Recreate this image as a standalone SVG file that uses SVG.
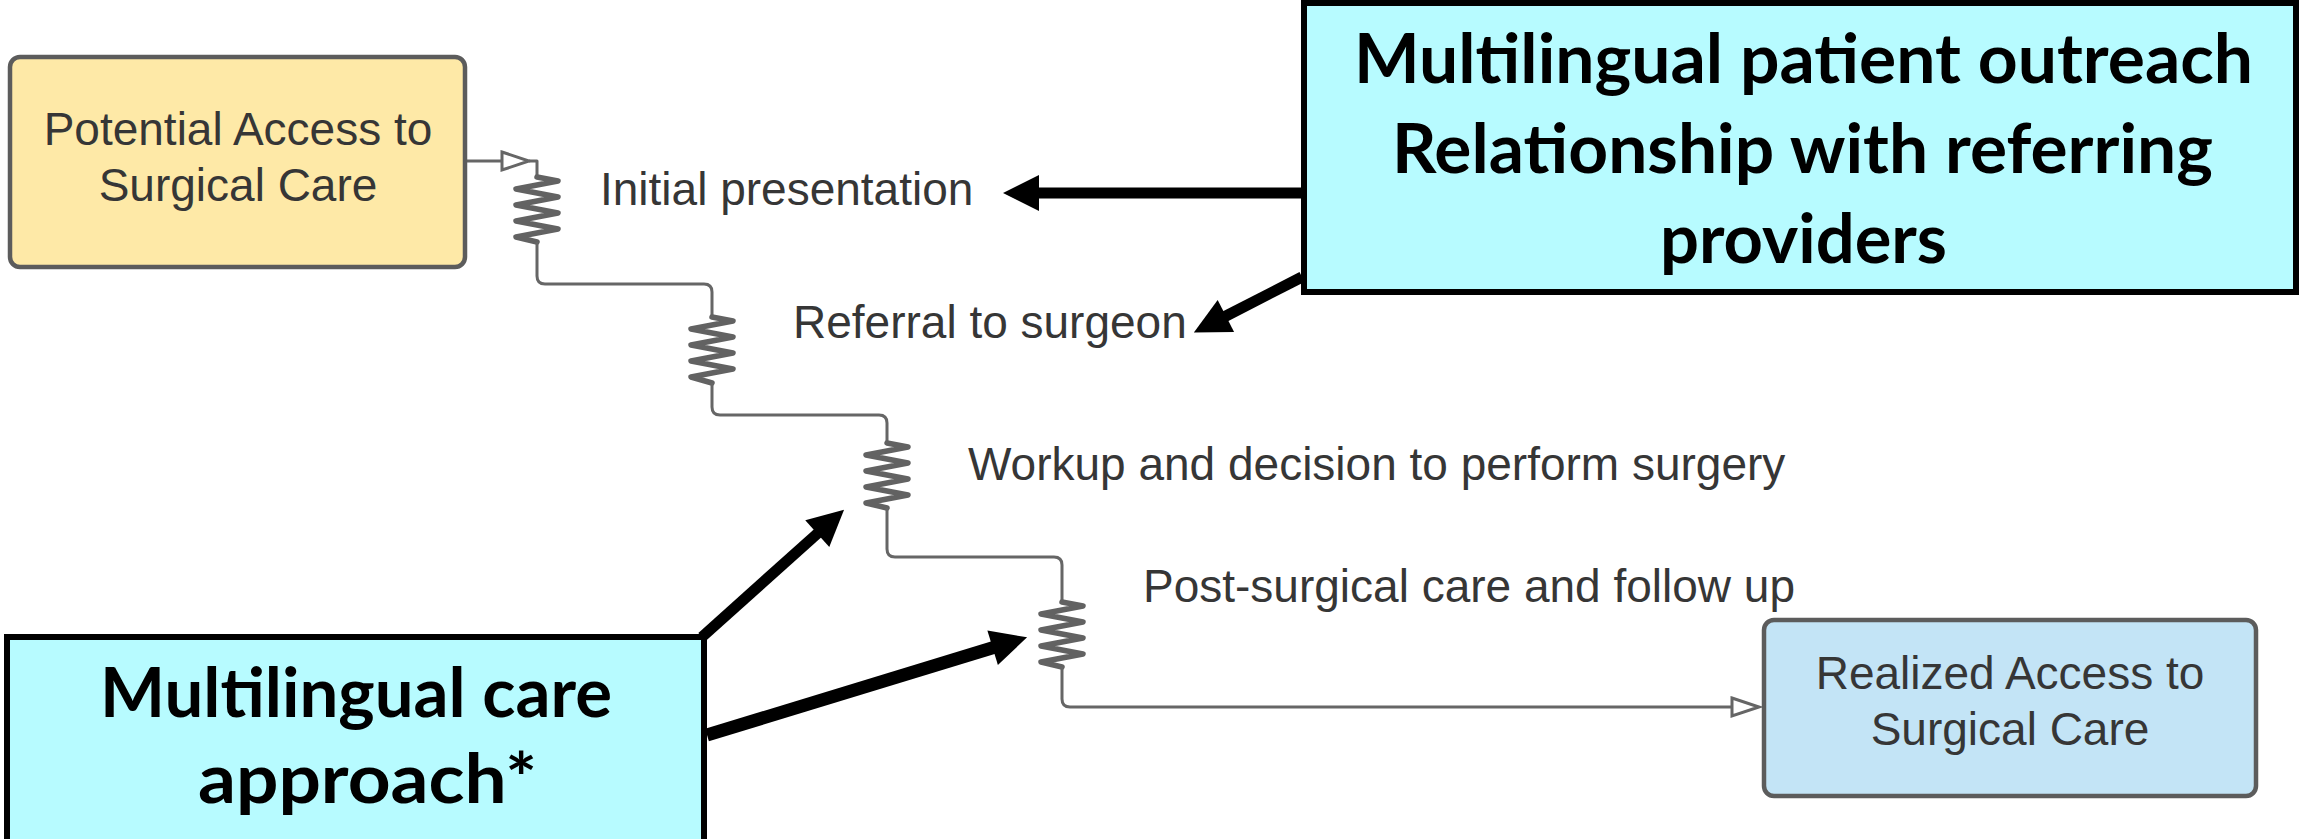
<svg xmlns="http://www.w3.org/2000/svg" width="2300" height="839" viewBox="0 0 2300 839">
<style>
.bg{fill:#ffffff}
.conn{fill:none;stroke:#666666;stroke-width:3;stroke-linejoin:round}
.spring{fill:none;stroke:#626262;stroke-width:5.5;stroke-linejoin:round;stroke-linecap:round}
.big{fill:none;stroke:#000;stroke-linecap:butt}
.lbl{font-family:"Liberation Sans",Arial,sans-serif;font-size:46px;fill:#363636}
.nodetxt{font-family:"Liberation Sans",Arial,sans-serif;font-size:46px;fill:#363636;text-anchor:middle}
.boldtxt{font-family:Lato,"Open Sans",sans-serif;font-weight:700;font-size:68px;fill:#000}
.rbox{stroke:#5c5c5c;stroke-width:4.5}
.cbox{fill:#b7fbff;stroke:#000;stroke-width:6}
</style>
<defs>
<marker id="hollow" markerUnits="userSpaceOnUse" viewBox="-2 -12 32 24" refX="0" refY="0" markerWidth="32" markerHeight="24" orient="auto" overflow="visible">
<path d="M0,-9 L27,0 L0,9 Z" fill="#fff" stroke="#666666" stroke-width="3"/>
</marker>
<marker id="solid" markerUnits="userSpaceOnUse" viewBox="0 -18 36 36" refX="1" refY="0" markerWidth="36" markerHeight="36" orient="auto" overflow="visible">
<path d="M0,-18 L36,0 L0,18 Z" fill="#000"/>
</marker>
</defs>
<rect class="bg" x="0" y="0" width="2300" height="839"/>

<g id="connectors">
<path class="conn" d="M466,161 H502" marker-end="url(#hollow)"/>
<path class="conn" d="M529,161 H537 V177"/>
<path class="spring" d="M537,177 L558,181 L516,189 L558,197 L516,205 L558,213 L516,221 L558,229 L516,237 L537,242"/>
<path class="conn" d="M537,242 V276 Q537,284 545,284 H704 Q712,284 712,292 V317"/>
<path class="spring" d="M712,317 L733,321 L691,329 L733,337 L691,345 L733,353 L691,361 L733,369 L691,377 L712,383"/>
<path class="conn" d="M712,383 V407 Q712,415 720,415 H879 Q887,415 887,423 V443"/>
<path class="spring" d="M887,443 L908,447 L866,455 L908,463 L866,471 L908,479 L866,487 L908,495 L866,503 L887,508"/>
<path class="conn" d="M887,508 V549 Q887,557 895,557 H1054 Q1062,557 1062,565 V602"/>
<path class="spring" d="M1062,602 L1083,606 L1041,614 L1083,622 L1041,630 L1083,638 L1041,646 L1083,654 L1041,662 L1062,667"/>
<path class="conn" d="M1062,667 V699 Q1062,707 1070,707 H1732" marker-end="url(#hollow)"/>

<path class="big" stroke-width="11" d="M1302,193 H1038" marker-end="url(#solid)"/>
<path class="big" stroke-width="11" d="M1302,277 L1225,316.5" marker-end="url(#solid)"/>
<path class="big" stroke-width="11" d="M702,637 L818,533" marker-end="url(#solid)"/>
<path class="big" stroke-width="13" d="M707,735 L993.6,647.5" marker-end="url(#solid)"/>
</g>

<g id="labels">
<text class="lbl" x="600" y="205">Initial presentation</text>
<text class="lbl" x="793" y="338">Referral to surgeon</text>
<text class="lbl" x="968" y="480">Workup and decision to perform surgery</text>
<text class="lbl" x="1143" y="602">Post-surgical care and follow up</text>
</g>

<g id="potential">
<rect class="rbox" x="10" y="57" width="455" height="210" rx="10" fill="#fee9a7"/>
<text class="nodetxt" x="238" y="145">Potential Access to</text>
<text class="nodetxt" x="238" y="201">Surgical Care</text>
</g>

<g id="realized">
<rect class="rbox" x="1764" y="620" width="492" height="176" rx="10" fill="#c3e4f6"/>
<text class="nodetxt" x="2010" y="689">Realized Access to</text>
<text class="nodetxt" x="2010" y="745">Surgical Care</text>
</g>

<g id="outreach">
<rect class="cbox" x="1304" y="3" width="992" height="289"/>
<text class="boldtxt" x="1354" y="83" textLength="899" lengthAdjust="spacingAndGlyphs">Multilingual patient outreach</text>
<text class="boldtxt" x="1392" y="173" textLength="821" lengthAdjust="spacingAndGlyphs">Relationship with referring</text>
<text class="boldtxt" x="1660" y="263" textLength="287" lengthAdjust="spacingAndGlyphs">providers</text>
</g>

<g id="careapproach">
<rect class="cbox" x="7" y="637" width="697" height="210"/>
<text class="boldtxt" x="100" y="717" textLength="512" lengthAdjust="spacingAndGlyphs">Multilingual care</text>
<text class="boldtxt" x="198" y="803" textLength="339" lengthAdjust="spacingAndGlyphs">approach*</text>
</g>
</svg>
